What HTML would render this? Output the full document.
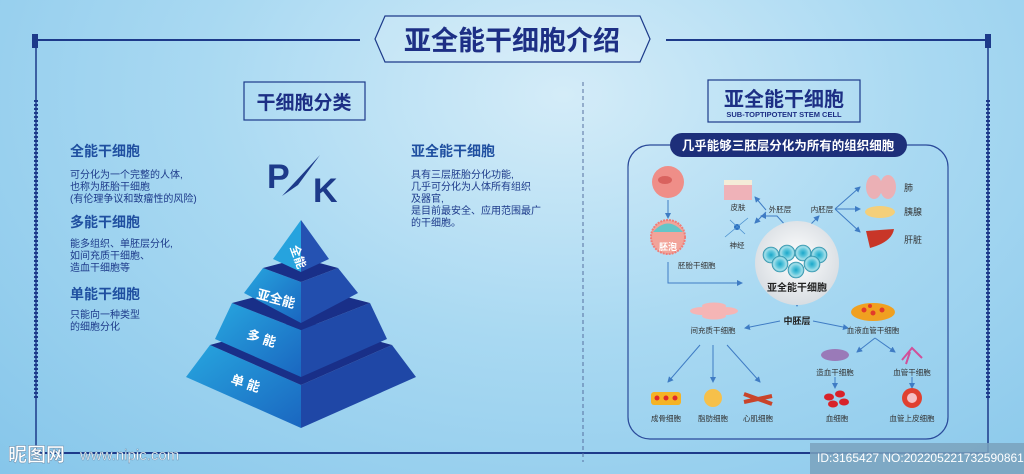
<!DOCTYPE html>
<html><head><meta charset="utf-8"><style>
html,body{margin:0;padding:0;width:1024px;height:474px;overflow:hidden}
body{background:radial-gradient(ellipse at 55% 20%,#d4ecf8 0%,#a9d9f2 45%,#86c6ea 100%);font-family:"Liberation Sans","Noto Sans CJK SC",sans-serif}
svg{position:absolute;left:0;top:0}
text{font-family:"Liberation Sans","Noto Sans CJK SC",sans-serif}
</style></head><body>
<svg width="1024" height="474" viewBox="0 0 1024 474">
<defs>
<radialGradient id="wc" cx="50%" cy="45%" r="55%"><stop offset="0" stop-color="#ffffff"/><stop offset="1" stop-color="#d8dde2"/></radialGradient>
<radialGradient id="cell" cx="50%" cy="50%" r="50%"><stop offset="0" stop-color="#1aa7c9"/><stop offset=".45" stop-color="#5cc6dc"/><stop offset=".8" stop-color="#a6e0ea"/><stop offset="1" stop-color="#3c9fb8"/></radialGradient>
<linearGradient id="lf" x1="0" y1="0" x2="1" y2="1"><stop offset="0" stop-color="#27a6df"/><stop offset="1" stop-color="#1a66c0"/></linearGradient>
<marker id="ar" markerWidth="6" markerHeight="6" refX="5" refY="3" orient="auto"><path d="M0,0L6,3L0,6z" fill="#3f7cc4"/></marker>
</defs>
<g stroke="#1d3a8a" fill="none">
<line x1="36" y1="40" x2="360" y2="40" stroke-width="2"/>
<line x1="666" y1="40" x2="990" y2="40" stroke-width="2"/>
<line x1="36" y1="40" x2="36" y2="453" stroke-width="1.5"/>
<line x1="988" y1="40" x2="988" y2="453" stroke-width="1.5"/>
<line x1="36" y1="453" x2="988" y2="453" stroke-width="2"/>
<line x1="36" y1="100" x2="36" y2="400" stroke-width="4" stroke-dasharray="2 2" />
<line x1="988" y1="100" x2="988" y2="400" stroke-width="4" stroke-dasharray="2 2"/>
<path d="M385 16 L640 16 L650 39 L640 62 L385 62 L375 39Z" stroke-width="1.2" fill="rgba(255,255,255,0.15)"/>
<line x1="583" y1="82" x2="583" y2="462" stroke="#5670a0" stroke-dasharray="4 3" stroke-width="1"/>
<rect x="244" y="82" width="121" height="38" stroke-width="1.2"/>
<rect x="708" y="80" width="152" height="42" stroke-width="1.2"/>
<rect x="628" y="145" width="320" height="294" rx="22" stroke="#2a4a9a" stroke-width="1.2"/>
</g>
<rect x="32" y="34" width="6" height="14" fill="#1d3a8a"/><rect x="985" y="34" width="6" height="14" fill="#1d3a8a"/>
<text x="512" y="50" text-anchor="middle" font-size="27" font-weight="bold" fill="#1d2f85">亚全能干细胞介绍</text>
<text x="304" y="109" text-anchor="middle" font-size="19" font-weight="bold" fill="#1d2f85">干细胞分类</text>
<text x="784" y="106" text-anchor="middle" font-size="20" font-weight="bold" fill="#1d2f85">亚全能干细胞</text>
<text x="784" y="117" text-anchor="middle" font-size="7.5" font-weight="bold" fill="#1d2f85">SUB-TOPTIPOTENT STEM CELL</text>
<g fill="#1d3a8a">
<text x="70" y="156" font-size="14" font-weight="bold" fill="#1f4fa0">全能干细胞</text>
<text x="70" y="178" font-size="10">可分化为一个完整的人体,</text>
<text x="70" y="190" font-size="10">也称为胚胎干细胞</text>
<text x="70" y="202" font-size="10">(有伦理争议和致瘤性的风险)</text>
<text x="70" y="227" font-size="14" font-weight="bold" fill="#1f4fa0">多能干细胞</text>
<text x="70" y="247" font-size="10">能多组织、单胚层分化,</text>
<text x="70" y="259" font-size="10">如间充质干细胞、</text>
<text x="70" y="271" font-size="10">造血干细胞等</text>
<text x="70" y="299" font-size="14" font-weight="bold" fill="#1f4fa0">单能干细胞</text>
<text x="70" y="318" font-size="10">只能向一种类型</text>
<text x="70" y="330" font-size="10">的细胞分化</text>
<text x="411" y="156" font-size="14" font-weight="bold" fill="#1f4fa0">亚全能干细胞</text>
<text x="411" y="178" font-size="10">具有三层胚胎分化功能,</text>
<text x="411" y="190" font-size="10">几乎可分化为人体所有组织</text>
<text x="411" y="202" font-size="10">及器官,</text>
<text x="411" y="214" font-size="10">是目前最安全、应用范围最广</text>
<text x="411" y="226" font-size="10">的干细胞。</text>
</g>
<text x="267" y="188" font-size="34" font-weight="bold" fill="#1d3a8a">P</text>
<text x="313" y="202" font-size="34" font-weight="bold" fill="#1d3a8a">K</text>
<path d="M320 155 L282 196 L298 185 Z" fill="#1d3a8a"/>
<g>
<polygon points="210,345 301,385 301,428 186,377" fill="url(#lf)"/>
<polygon points="301,385 392,345 416,377 301,428" fill="#1f47a6"/>
<polygon points="210,345 301,320 392,345 301,385" fill="#192f88"/>
<polygon points="232,303 301,330 301,377 215,339" fill="url(#lf)"/>
<polygon points="301,330 370,303 387,339 301,377" fill="#204aa9"/>
<polygon points="232,303 301,285 370,303 301,330" fill="#192f88"/>
<polygon points="263,268 301,282 301,323 244,293" fill="url(#lf)"/>
<polygon points="301,282 338,268 358,293 301,323" fill="#224eae"/>
<polygon points="263,268 301,258 338,268 301,282" fill="#192f88"/>
<polygon points="301,220 301,272 273,259" fill="#26a3de"/>
<polygon points="301,220 329,259 301,272" fill="#2552b2"/>
<g fill="#fff" font-weight="bold">
<text x="290" y="247" font-size="12" transform="rotate(70 290 247)">全能</text>
<text x="256" y="298" font-size="13" transform="rotate(15 256 298)">亚全能</text>
<text x="246" y="338" font-size="13" transform="rotate(18 246 338)">多 能</text>
<text x="230" y="383" font-size="13" transform="rotate(18 230 383)">单 能</text>
</g></g>
<rect x="670" y="133" width="237" height="24" rx="12" fill="#1d2f7a"/>
<text x="788" y="150" text-anchor="middle" font-size="12.5" font-weight="bold" fill="#fff">几乎能够三胚层分化为所有的组织细胞</text>
<g stroke="#3f7cc4" stroke-width="1" fill="none" marker-end="url(#ar)">
<line x1="668" y1="200" x2="668" y2="218"/>
<polyline points="668,262 668,283 742,283"/>
<polyline points="797,238 777,216 761,216"/>
<polyline points="797,238 819,216"/>
<line x1="766" y1="210" x2="755" y2="197"/>
<line x1="766" y1="212" x2="755" y2="223"/>
<line x1="835" y1="209" x2="860" y2="187"/>
<line x1="835" y1="209" x2="860" y2="209"/>
<line x1="835" y1="209" x2="860" y2="232"/>
<line x1="797" y1="296" x2="797" y2="306"/>
<line x1="780" y1="321" x2="745" y2="328"/>
<line x1="813" y1="321" x2="848" y2="328"/>
<line x1="700" y1="345" x2="668" y2="382"/>
<line x1="713" y1="345" x2="713" y2="382"/>
<line x1="727" y1="345" x2="760" y2="382"/>
<line x1="875" y1="338" x2="857" y2="352"/>
<line x1="875" y1="338" x2="895" y2="352"/>
<line x1="835" y1="377" x2="835" y2="388"/>
<line x1="912" y1="377" x2="912" y2="388"/>
</g>
<circle cx="668" cy="182" r="16" fill="#ef8e88"/><ellipse cx="665" cy="180" rx="7" ry="4" fill="#d9625e"/>
<circle cx="668" cy="237" r="17" fill="#f2a49a" stroke="#f07d77" stroke-dasharray="2 1" stroke-width="2"/><path d="M653 232 Q668 215 683 232 Z" fill="#64c5c8"/>
<text x="668" y="250" text-anchor="middle" font-size="9" fill="#fff" font-weight="bold">胚泡</text>
<text x="678" y="268" font-size="7.5" fill="#333">胚胎干细胞</text>
<circle cx="797" cy="263" r="42" fill="url(#wc)"/>
<g fill="url(#cell)" stroke="#2a8fa8" stroke-width=".6">
<circle cx="771" cy="255" r="8"/><circle cx="787" cy="253" r="8"/><circle cx="803" cy="253" r="8"/><circle cx="819" cy="255" r="8"/>
<circle cx="780" cy="264" r="8"/><circle cx="812" cy="264" r="8"/><circle cx="796" cy="270" r="8"/>
</g>
<text x="797" y="291" text-anchor="middle" font-size="10" font-weight="bold" fill="#222">亚全能干细胞</text>
<rect x="724" y="180" width="28" height="20" fill="#efb2b8"/><rect x="724" y="180" width="28" height="5" fill="#f4ecd8"/>
<text x="738" y="210" text-anchor="middle" font-size="7.5" fill="#333">皮肤</text>
<circle cx="737" cy="227" r="3" fill="#2a6fc0"/><path d="M725 237 L737 227 L748 218 M730 220 L745 234" stroke="#4a90d0" stroke-width=".8"/>
<text x="737" y="248" text-anchor="middle" font-size="7.5" fill="#333">神经</text>
<text x="780" y="212" text-anchor="middle" font-size="7.5" fill="#333">外胚层</text>
<text x="822" y="212" text-anchor="middle" font-size="7.5" fill="#333">内胚层</text>
<ellipse cx="874" cy="187" rx="8" ry="12" fill="#ebb0b5"/><ellipse cx="888" cy="187" rx="8" ry="12" fill="#ebb0b5"/>
<text x="904" y="191" font-size="9" fill="#333">肺</text>
<ellipse cx="880" cy="212" rx="15" ry="6" fill="#f4cf7a"/>
<text x="904" y="215" font-size="9" fill="#333">胰腺</text>
<path d="M866 231 L894 229 Q892 242 870 248 Z" fill="#c83628"/>
<text x="904" y="243" font-size="9" fill="#333">肝脏</text>
<text x="797" y="324" text-anchor="middle" font-size="9" font-weight="bold" fill="#222">中胚层</text>
<g fill="#f5b5b5"><ellipse cx="703" cy="311" rx="13" ry="4"/><ellipse cx="725" cy="311" rx="13" ry="4"/><ellipse cx="714" cy="306" rx="12" ry="3.5"/><ellipse cx="714" cy="316" rx="12" ry="3.5"/></g>
<text x="713" y="333" text-anchor="middle" font-size="7.5" fill="#333">间充质干细胞</text>
<g fill="#f0a020"><ellipse cx="873" cy="312" rx="22" ry="9"/></g><g fill="#e23a2a"><circle cx="864" cy="310" r="2.5"/><circle cx="873" cy="313" r="2.5"/><circle cx="882" cy="310" r="2.5"/><circle cx="870" cy="306" r="2"/></g>
<text x="873" y="333" text-anchor="middle" font-size="7.5" fill="#333">血液血管干细胞</text>
<ellipse cx="835" cy="355" rx="14" ry="6" fill="#9a7ab8"/>
<text x="835" y="375" text-anchor="middle" font-size="7.5" fill="#333">造血干细胞</text>
<path d="M902 360 L912 348 L922 358 M910 352 L906 364" stroke="#d0509a" stroke-width="2" fill="none"/>
<text x="912" y="375" text-anchor="middle" font-size="7.5" fill="#333">血管干细胞</text>
<g fill="#f4b325"><rect x="651" y="392" width="30" height="13" rx="3"/></g><g fill="#e02a2a"><circle cx="657" cy="398" r="2.5"/><circle cx="666" cy="398" r="2.5"/><circle cx="675" cy="398" r="2.5"/></g>
<circle cx="713" cy="398" r="9" fill="#f6c04a"/>
<path d="M744 394 L772 404 M744 402 L772 396" stroke="#c9442a" stroke-width="4"/>
<g fill="#d8222a"><ellipse cx="829" cy="397" rx="5" ry="3.5"/><ellipse cx="840" cy="394" rx="5" ry="3.5"/><ellipse cx="844" cy="402" rx="5" ry="3.5"/><ellipse cx="833" cy="404" rx="5" ry="3.5"/></g>
<circle cx="912" cy="398" r="10" fill="#e04030"/><circle cx="912" cy="398" r="5" fill="#f5c0c5"/>
<g font-size="7.5" fill="#333" text-anchor="middle">
<text x="666" y="421">成骨细胞</text><text x="713" y="421">脂肪细胞</text><text x="758" y="421">心肌细胞</text><text x="837" y="421">血细胞</text><text x="912" y="421">血管上皮细胞</text>
</g>
<text x="8" y="461" font-size="19" font-weight="bold" fill="#fff" stroke="#6a8aa8" stroke-width=".5">昵图网</text>
<text x="80" y="460" font-size="15" fill="#fff" stroke="#6a8aa8" stroke-width=".4">www.nipic.com</text>
<rect x="810" y="443" width="214" height="31" fill="#7aa2bd" opacity=".85"/>
<text x="817" y="462" font-size="12" fill="#fff">ID:3165427 NO:20220522173259086100</text>
</svg>
</body></html>
